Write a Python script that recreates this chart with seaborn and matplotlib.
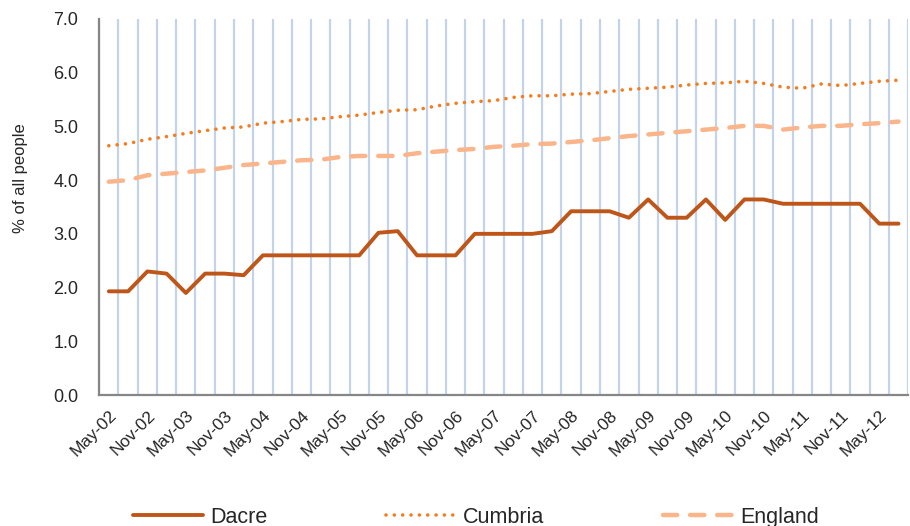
import numpy as np
import pandas as pd
import matplotlib
matplotlib.use("Agg")
import matplotlib.pyplot as plt
import seaborn as sns

# quarterly periods, May-02 .. Aug-12
months = ["May", "Aug", "Nov", "Feb"]
periods = []
for i in range(42):
    yr = 2 + (i + 1) // 4 if (i % 4) == 3 else 2 + i // 4
    periods.append(f"{months[i % 4]}-{yr:02d}")

dacre = [1.93, 1.93, 2.30, 2.26, 1.90, 2.26, 2.26, 2.23, 2.60, 2.60,
         2.60, 2.60, 2.60, 2.60, 3.02, 3.05, 2.60, 2.60, 2.60, 3.00,
         3.00, 3.00, 3.00, 3.05, 3.42, 3.42, 3.42, 3.30, 3.64, 3.30,
         3.30, 3.64, 3.26, 3.64, 3.64, 3.56, 3.56, 3.56, 3.56, 3.56,
         3.19, 3.19]
cumbria = [4.64, 4.68, 4.76, 4.81, 4.87, 4.92, 4.97, 4.99, 5.06, 5.09,
           5.13, 5.14, 5.18, 5.21, 5.26, 5.30, 5.31, 5.38, 5.43, 5.46,
           5.48, 5.54, 5.57, 5.57, 5.60, 5.61, 5.65, 5.69, 5.71, 5.73,
           5.77, 5.80, 5.81, 5.84, 5.80, 5.73, 5.71, 5.79, 5.76, 5.80,
           5.84, 5.86]
england = [3.97, 4.00, 4.09, 4.12, 4.15, 4.18, 4.23, 4.28, 4.31, 4.34,
           4.37, 4.38, 4.43, 4.45, 4.45, 4.45, 4.50, 4.53, 4.56, 4.58,
           4.62, 4.64, 4.67, 4.68, 4.71, 4.74, 4.78, 4.82, 4.85, 4.88,
           4.91, 4.94, 4.97, 5.01, 5.01, 4.94, 4.98, 5.01, 5.01, 5.04,
           5.06, 5.09]

df = pd.DataFrame({"idx": np.arange(len(periods)), "Dacre": dacre,
                   "Cumbria": cumbria, "England": england})

sns.set_style("white")
plt.rcParams["font.family"] = ["Liberation Sans", "DejaVu Sans"]

fig = plt.figure(figsize=(9.1, 5.26), dpi=100)
ax = fig.add_axes([0.109, 0.249, 0.889, 0.715])

styles = {
    "Dacre": dict(color="#BE5619", lw=2.8, linestyle="-"),
    "Cumbria": dict(color="#F47D20", lw=2.6, linestyle=(0, (0.01, 2.3)),
                    dash_capstyle="round"),
    "England": dict(color="#FAB58A", lw=3.2, linestyle=(0, (3.2, 2.9)),
                    dash_capstyle="round"),
}
for name in ["Dacre", "Cumbria", "England"]:
    sns.lineplot(data=df, x="idx", y=name, ax=ax, label=name, **styles[name])

n = len(periods)
ax.set_xlim(-0.5, n - 0.5)
ax.set_ylim(0, 7)
ax.set_yticks(np.arange(0, 7.01, 1.0))
ax.set_yticklabels([f"{v:.1f}" for v in np.arange(0, 7.01, 1.0)], fontsize=13)
ax.set_xticks(np.arange(0, n, 2))
ax.set_xticklabels(periods[::2], rotation=45, ha="right",
                   rotation_mode="anchor", fontsize=12.5)
ax.set_xticks(np.arange(-0.5, n, 1.0), minor=True)
ax.tick_params(axis="x", which="major", length=0, pad=9)
ax.tick_params(axis="x", which="minor", length=6, width=1.3, color="#868686",
               direction="out")
ax.tick_params(axis="y", length=6, width=1.3, color="#868686", direction="out",
               pad=9)
ax.grid(False)
ax.xaxis.grid(True, which="minor", color="#C3D4EA", lw=1.6)
ax.set_axisbelow(True)

for s in ["top", "right"]:
    ax.spines[s].set_visible(False)
for s in ["left", "bottom"]:
    ax.spines[s].set_color("#868686")
    ax.spines[s].set_linewidth(1.6)

ax.set_xlabel("")
ax.set_ylabel("% of all people", fontsize=12)
ax.yaxis.set_label_coords(-0.088, 0.577)

ax.get_legend().remove()
handles, labels = ax.get_legend_handles_labels()
fig.legend(handles, labels, loc="center", ncol=3, frameon=False,
           fontsize=15.5, handlelength=3.25, columnspacing=5.5,
           bbox_to_anchor=(0.523, 0.017), handletextpad=0.35)

fig.savefig("out.png", dpi=100)
